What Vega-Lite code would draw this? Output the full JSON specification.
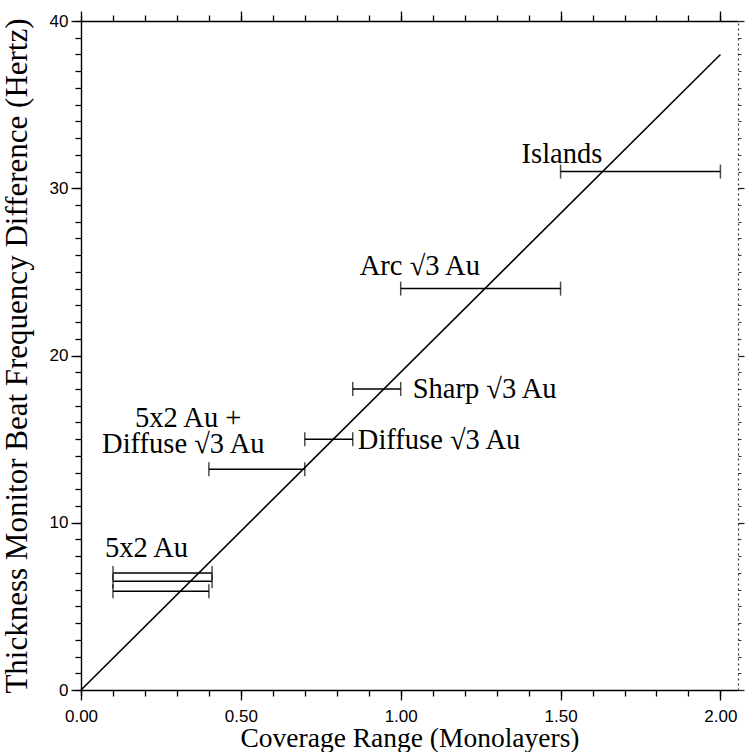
{
  "$schema": "https://vega.github.io/schema/vega-lite/v6.json",
  "width": 657,
  "height": 669,
  "autosize": {"type": "none"},
  "padding": {"left": 81, "top": 21, "right": 7, "bottom": 62},
  "background": "white",
  "config": {
    "view": {"stroke": null},
    "axis": {
      "grid": false,
      "domainColor": "black",
      "domainWidth": 1.4,
      "tickColor": "black",
      "tickWidth": 1.3,
      "labelColor": "black",
      "labelFont": "Liberation Sans",
      "labelFontSize": 17,
      "labelOverlap": false,
      "labelFlush": false,
      "titleColor": "black",
      "titleFont": "Liberation Serif",
      "titleFontWeight": "normal"
    }
  },
  "datasets": {
    "fit": [{"x": 0, "y": 0}, {"x": 2.0, "y": 38}],
    "bars": [
      {"lo": 1.5, "hi": 2.0, "y": 31},
      {"lo": 1.0, "hi": 1.5, "y": 24},
      {"lo": 0.85, "hi": 1.0, "y": 18},
      {"lo": 0.7, "hi": 0.85, "y": 15},
      {"lo": 0.4, "hi": 0.7, "y": 13.2},
      {"lo": 0.1, "hi": 0.41, "y": 7.0},
      {"lo": 0.1, "hi": 0.41, "y": 6.5},
      {"lo": 0.1, "hi": 0.4, "y": 5.9}
    ],
    "labels": [
      {"t": "Islands", "x": 1.378, "y": 31.5},
      {"t": "Arc √3 Au", "x": 0.872, "y": 24.8},
      {"t": "Sharp √3 Au", "x": 1.0375, "y": 17.46},
      {"t": "Diffuse √3 Au", "x": 0.866, "y": 14.4},
      {"t": "5x2 Au +", "x": 0.169, "y": 15.7},
      {"t": "Diffuse √3 Au", "x": 0.066, "y": 14.17},
      {"t": "5x2 Au", "x": 0.075, "y": 7.95}
    ]
  },
  "layer": [
    {
      "data": {"name": "fit"},
      "mark": {"type": "line", "color": "black", "strokeWidth": 1.6},
      "encoding": {
        "x": {
          "field": "x", "type": "quantitative",
          "scale": {"domain": [0, 2.055], "nice": false, "zero": false},
          "axis": {
            "orient": "bottom",
            "values": [0, 0.1, 0.2, 0.3, 0.4, 0.5, 0.6, 0.7, 0.8, 0.9, 1.0, 1.1, 1.2, 1.3, 1.4, 1.5, 1.6, 1.7, 1.8, 1.9, 2.0],
            "labelExpr": "round(datum.value*10) % 5 == 0 ? format(datum.value, '.2f') : ''",
            "tickSize": 6,
            "labelPadding": 12,
            "title": "Coverage Range (Monolayers)",
            "titleFontSize": 27.5,
            "titleBaseline": "alphabetic",
            "titleY": 56
          }
        },
        "y": {
          "field": "y", "type": "quantitative",
          "scale": {"domain": [0, 40], "nice": false},
          "axis": {
            "orient": "left",
            "values": [0, 1, 2, 3, 4, 5, 6, 7, 8, 9, 10, 11, 12, 13, 14, 15, 16, 17, 18, 19, 20, 21, 22, 23, 24, 25, 26, 27, 28, 29, 30, 31, 32, 33, 34, 35, 36, 37, 38, 39, 40],
            "labelExpr": "datum.value % 10 == 0 ? datum.value : ''",
            "tickSize": 6,
            "labelPadding": 7,
            "title": "Thickness Monitor Beat Frequency Difference (Hertz)",
            "titleFontSize": 31,
            "titlePadding": 16
          }
        }
      }
    },
    {
      "data": {"name": "bars"},
      "mark": {"type": "rule", "color": "black", "strokeWidth": 1.5},
      "encoding": {
        "x": {"field": "lo", "type": "quantitative", "axis": {"orient": "top", "values": [0, 0.1, 0.2, 0.3, 0.4, 0.5, 0.6, 0.7, 0.8, 0.9, 1.0, 1.1, 1.2, 1.3, 1.4, 1.5, 1.6, 1.7, 1.8, 1.9, 2.0], "labels": false, "title": null, "tickSize": 6}},
        "x2": {"field": "hi"},
        "y": {"field": "y", "type": "quantitative", "axis": {"orient": "right", "values": [0, 1, 2, 3, 4, 5, 6, 7, 8, 9, 10, 11, 12, 13, 14, 15, 16, 17, 18, 19, 20, 21, 22, 23, 24, 25, 26, 27, 28, 29, 30, 31, 32, 33, 34, 35, 36, 37, 38, 39, 40], "labels": false, "title": null, "tickSize": 3, "tickColor": "#333", "tickWidth": 1, "domainColor": "#333", "domainWidth": 1.2, "domainDash": [2, 3]}}
      }
    },
    {
      "data": {"name": "bars"},
      "mark": {"type": "tick", "orient": "vertical", "color": "black", "size": 14, "thickness": 1.5},
      "encoding": {
        "x": {"field": "lo", "type": "quantitative", "axis": {"orient": "bottom", "values": [0, 0.5, 1.0, 1.5, 2.0], "labels": false, "title": null, "domain": false, "tickSize": 10}},
        "y": {"field": "y", "type": "quantitative", "axis": {"orient": "left", "values": [0, 10, 20, 30, 40], "labels": false, "title": null, "domain": false, "tickSize": 10}}
      }
    },
    {
      "data": {"name": "bars"},
      "mark": {"type": "tick", "orient": "vertical", "color": "black", "size": 14, "thickness": 1.5},
      "encoding": {
        "x": {"field": "hi", "type": "quantitative", "axis": {"orient": "top", "values": [0, 0.5, 1.0, 1.5, 2.0], "labels": false, "title": null, "domain": false, "tickSize": 10}},
        "y": {"field": "y", "type": "quantitative", "axis": {"orient": "right", "values": [0, 10, 20, 30, 40], "labels": false, "title": null, "domain": false, "tickSize": 6, "tickColor": "#222"}}
      }
    },
    {
      "data": {"name": "labels"},
      "mark": {"type": "text", "align": "left", "baseline": "alphabetic", "font": "Liberation Serif", "fontSize": 28.5, "color": "black"},
      "encoding": {
        "x": {"field": "x", "type": "quantitative", "axis": null},
        "y": {"field": "y", "type": "quantitative", "axis": null},
        "text": {"field": "t"}
      }
    }
  ],
  "resolve": {"axis": {"x": "independent", "y": "independent"}}
}
